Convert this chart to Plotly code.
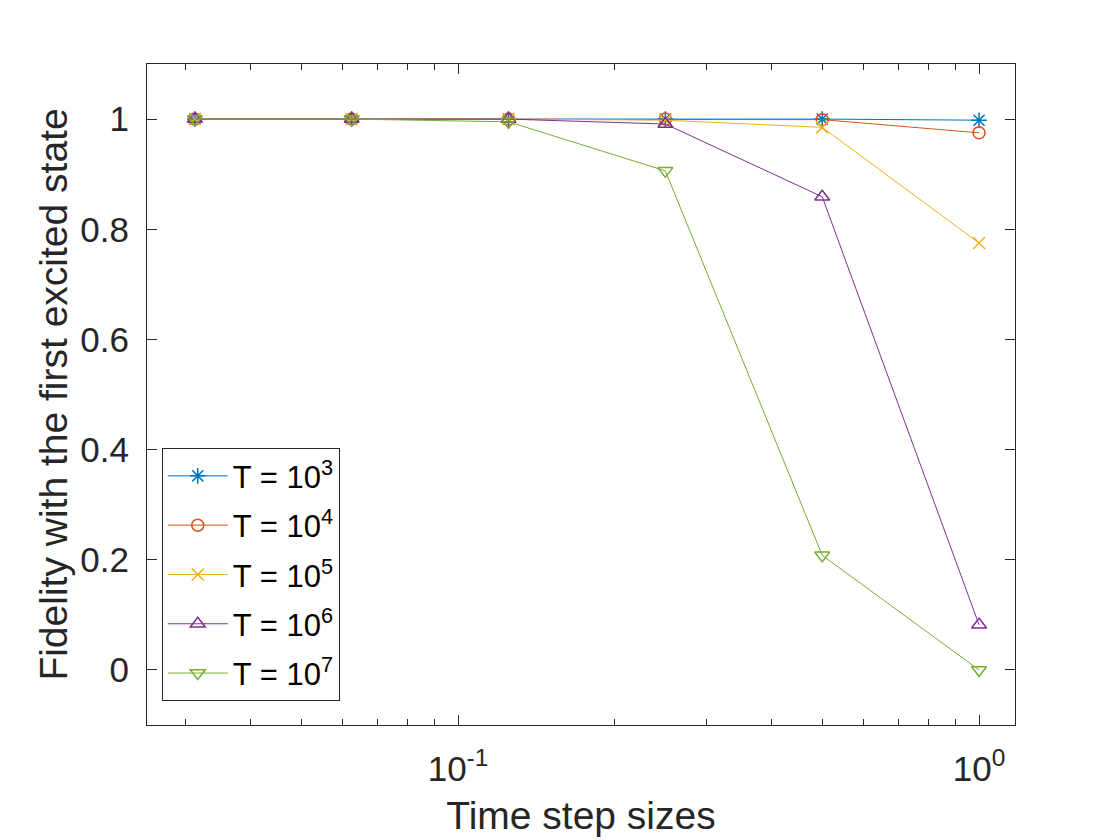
import plotly.graph_objects as go

step_sizes = [1/32, 1/16, 1/8, 1/4, 1/2, 1]
series_names = ["T = 10<sup>3</sup>", "T = 10<sup>4</sup>", "T = 10<sup>5</sup>",
                "T = 10<sup>6</sup>", "T = 10<sup>7</sup>"]
fid_T1e3 = [1.0, 1.0, 1.0, 1.0, 1.0, 0.998]
fid_T1e4 = [1.0, 1.0, 1.0, 1.0, 0.999, 0.975]
fid_T1e5 = [1.0, 1.0, 1.0, 0.998, 0.985, 0.775]
fid_T1e6 = [1.0, 1.0, 1.0, 0.991, 0.859, 0.082]
fid_T1e7 = [1.0, 1.0, 0.995, 0.906, 0.208, 0.0]
x_tickvals = [0.1, 1]
x_ticktext = ["10<sup>-1</sup>", "10<sup>0</sup>"]
y_tickvals = [0, 0.2, 0.4, 0.6, 0.8, 1]
y_ticktext = ["0", "0.2", "0.4", "0.6", "0.8", "1"]

colors = ["#0072BD", "#D95319", "#EDB120", "#7E2F8E", "#77AC30"]
symbols = ["asterisk-open", "circle-open", "x-thin-open", "triangle-up-open", "triangle-down-open"]
sizes = [13, 12, 12, 13, 13]
data = [fid_T1e3, fid_T1e4, fid_T1e5, fid_T1e6, fid_T1e7]

fig = go.Figure()
for i, (name, ys, c, s, sz) in enumerate(zip(series_names, data, colors, symbols, sizes)):
    fig.add_trace(go.Scatter(
        x=step_sizes, y=ys, mode="lines+markers", name=name, legendgroup=f"g{i}",
        line=dict(color=c, width=1),
        marker=dict(symbol=s, size=sz, color=c, line=dict(color=c, width=1.5)),
    ))

axis_color = "#262626"
fig.update_layout(
    width=1120, height=840,
    paper_bgcolor="white", plot_bgcolor="white",
    margin=dict(l=147, r=105, t=64, b=115),
    font=dict(family="Liberation Sans, Arial, Helvetica, sans-serif", color=axis_color, size=31),
    showlegend=True,
    legend=dict(
        x=0.017, y=0.036, xanchor="left", yanchor="bottom",
        bgcolor="white", bordercolor=axis_color, borderwidth=1,
        font=dict(size=31, color="black"),
        itemwidth=60, tracegroupgap=6,
    ),
)
fig.update_xaxes(
    type="log", range=[-1.597, 0.069],
    tickvals=x_tickvals, ticktext=x_ticktext,
    ticks="inside", ticklen=10, tickcolor=axis_color, tickwidth=1,
    minor=dict(ticks="inside", ticklen=6, tickcolor=axis_color, dtick="D1", showgrid=False),
    showline=True, linecolor=axis_color, linewidth=1, mirror="ticks",
    showgrid=False, zeroline=False,
    tickfont=dict(size=35), ticklabelstandoff=13,
    title=dict(text="Time step sizes", font=dict(size=39), standoff=14),
)
fig.update_yaxes(
    range=[-0.1, 1.1],
    tickvals=y_tickvals, ticktext=y_ticktext,
    ticks="inside", ticklen=10, tickcolor=axis_color, tickwidth=1,
    showline=True, linecolor=axis_color, linewidth=1, mirror="ticks",
    showgrid=False, zeroline=False,
    tickfont=dict(size=35), ticklabelstandoff=10,
    title=dict(text="Fidelity with the first excited state", font=dict(size=39), standoff=0),
)
fig.write_html("out.html")
